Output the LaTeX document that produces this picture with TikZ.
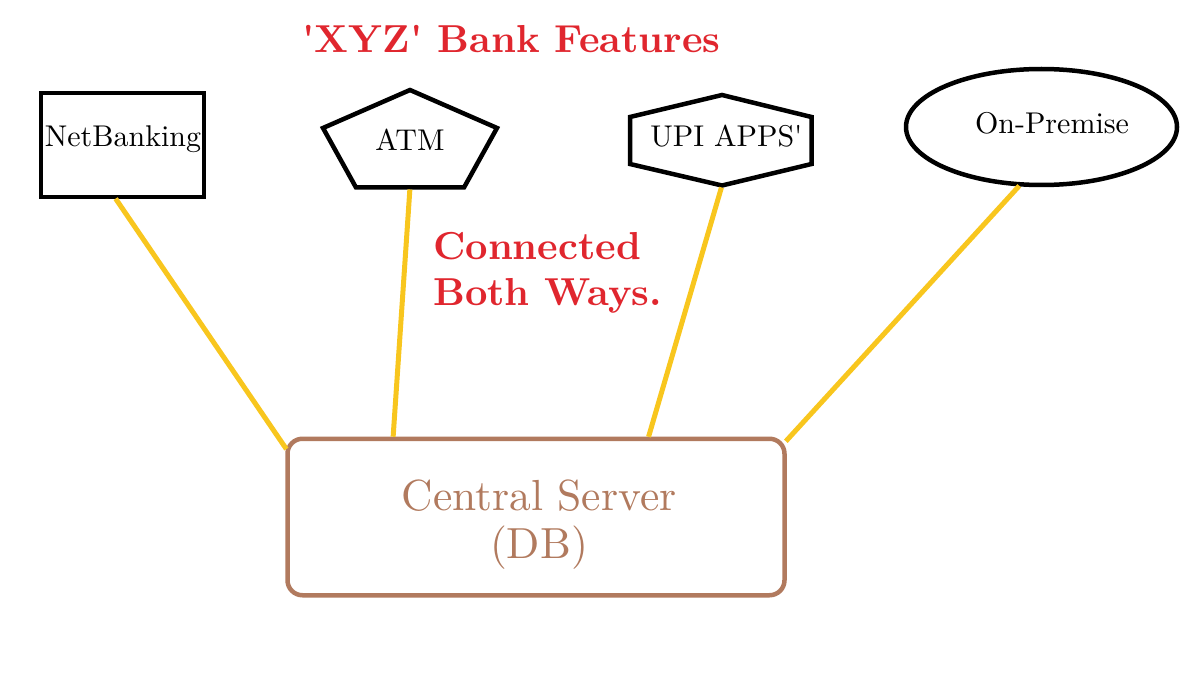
\documentclass[tikz,border=0pt]{standalone}
\usepackage{fontspec}
\setmainfont{lmroman10-regular.otf}[BoldFont=lmroman10-bold.otf]
\usetikzlibrary{shapes.geometric}

\definecolor{bankred}{RGB}{224,38,46}
\definecolor{wireyellow}{RGB}{248,198,30}
\definecolor{serverbrown}{RGB}{177,122,94}

\begin{document}
\begin{tikzpicture}[
        x=1pt, y=-1pt,
        outline/.style={draw, line width=4.5pt, line join=miter, inner sep=0pt, outer sep=0pt},
        feature/.style={inner sep=0pt, anchor=base, font=\fontsize{30}{36}\selectfont},
        wire/.style={draw=wireyellow, line width=5pt, shorten <=2pt, shorten >=2pt},
        heading/.style={inner sep=0pt, text=bankred, font=\fontsize{39}{46}\selectfont\bfseries}
    ]

        \useasboundingbox (0,0) rectangle (1200,682);

        % Feature outlines
        \node[outline, rectangle, minimum width=163pt, minimum height=104pt] (netbanking_box) at (122.5,145) {};
        \draw[outline] (410,90) -- (497,128) -- (464,187.5) -- (356,187.5) -- (323,128) -- cycle;
        \draw[outline] (722,95) -- (811.5,117) -- (811.5,164) -- (722,185.5) -- (630,164) -- (630,117) -- cycle;
        \node[outline, ellipse, minimum width=271pt, minimum height=116pt] (onpremise_box) at (1041.5,127) {};
        \coordinate (atm_foot) at (410,187.5);
        \coordinate (upi_foot) at (722,185.5);

        % Feature labels
        \node[feature] (netbanking) at (123,146.7) {NetBanking};
        \node[feature] (atm) at (410,150) {ATM};
        \node[feature] (upi) at (726.5,146.7) {UPI APPS\textquotesingle};
        \node[feature] (onpremise) at (1052,133.3) {On-Premise};

        % Central server
        \node[outline, draw=serverbrown, rounded corners=15pt, minimum width=497pt, minimum height=156.5pt] (server_box) at (536,517) {};
        \node[inner sep=0pt, anchor=north, align=center, text=serverbrown, font=\fontsize{43.5}{48}\selectfont] (server) at (539,480) {Central Server\\(DB)};

        % Headings
        \node[heading, anchor=base] (title) at (511.5,53) {\textquotesingle XYZ\textquotesingle{} Bank Features};
        \node[heading, anchor=north west, align=left] (both_ways) at (433,232.6) {Connected\\Both Ways.};

        % Links to the server
        \draw[wire] ([xshift=-8pt]netbanking_box.south) -- ([yshift=-12pt]server_box.north west);
        \draw[wire] (atm_foot) -- ([xshift=-143pt]server_box.north);
        \draw[wire] (upi_foot) -- ([xshift=112pt]server_box.north);
        \draw[wire] (onpremise_box.250) -- ([yshift=-4pt]server_box.north east);

\end{tikzpicture}
\end{document}
